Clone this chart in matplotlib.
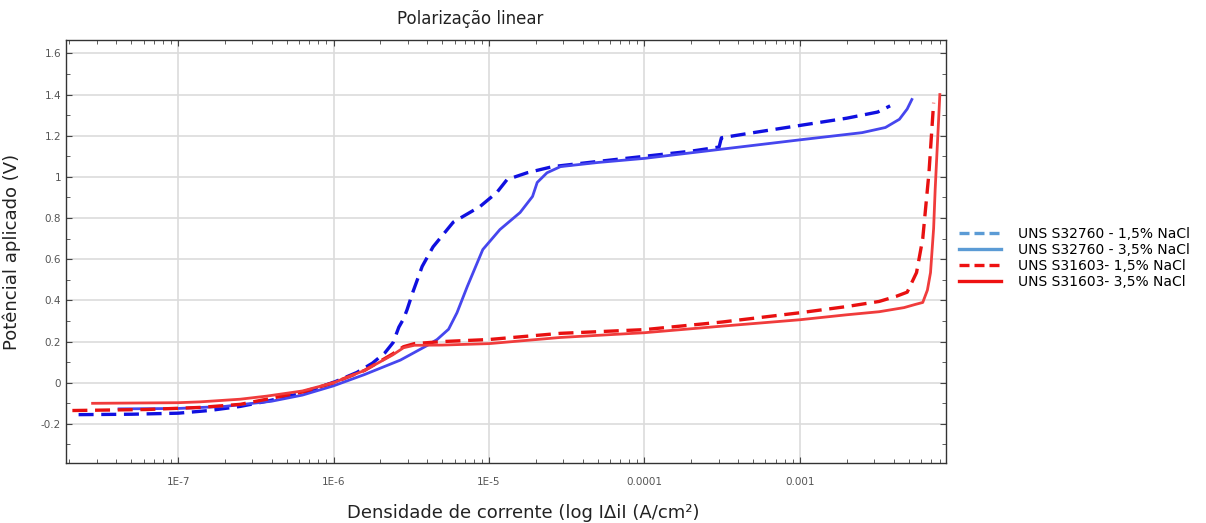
import numpy as np
import matplotlib
matplotlib.use('Agg')
import matplotlib.pyplot as plt
from matplotlib.lines import Line2D
from matplotlib.ticker import LogLocator, MultipleLocator

# log10 of current density (A/cm2) and applied potential (V)
s32760_15_logi = [-7.64, -7.3, -7.0, -6.8, -6.6, -6.43, -6.2, -5.99, -5.85, -5.75,
                  -5.67, -5.617, -5.58, -5.55, -5.527, -5.49, -5.43, -5.36, -5.23, -5.058,
                  -4.95, -4.884, -4.755, -4.59, -4.3, -4.0, -3.7, -3.52, -3.505, -3.3,
                  -3.0, -2.7, -2.5, -2.42]
s32760_15_E = [-0.155, -0.153, -0.148, -0.135, -0.115, -0.09, -0.05, 0.005, 0.05, 0.095,
               0.145, 0.195, 0.27, 0.31, 0.355, 0.44, 0.565, 0.66, 0.78, 0.856,
               0.924, 0.987, 1.02, 1.05, 1.075, 1.10, 1.125, 1.145, 1.19, 1.215,
               1.25, 1.285, 1.315, 1.345]

s32760_35_logi = [-7.38, -7.0, -6.7, -6.4, -6.2, -6.0, -5.8, -5.57, -5.4, -5.334,
                  -5.26, -5.206, -5.14, -5.04, -4.93, -4.80, -4.72, -4.69, -4.627, -4.54,
                  -4.3, -4.0, -3.5, -3.0, -2.6, -2.45, -2.36, -2.31, -2.28]
s32760_35_E = [-0.127, -0.125, -0.115, -0.09, -0.06, -0.015, 0.04, 0.11, 0.18, 0.21,
               0.26, 0.34, 0.467, 0.647, 0.744, 0.827, 0.905, 0.973, 1.02, 1.05,
               1.07, 1.09, 1.135, 1.18, 1.215, 1.24, 1.28, 1.33, 1.376]

s31603_15_logi = [-7.68, -7.2, -6.86, -6.6, -6.43, -6.2, -6.0, -5.8, -5.62, -5.55,
                  -5.48, -5.3, -5.0, -4.54, -4.0, -3.5, -3.0, -2.7, -2.49, -2.38,
                  -2.31, -2.25, -2.21, -2.17, -2.14]
s31603_15_E = [-0.135, -0.13, -0.12, -0.105, -0.08, -0.045, 0.0, 0.06, 0.14, 0.175,
               0.19, 0.20, 0.21, 0.24, 0.258, 0.295, 0.34, 0.37, 0.395, 0.42,
               0.44, 0.535, 0.70, 1.02, 1.36]

s31603_35_logi = [-7.55, -7.0, -6.86, -6.6, -6.43, -6.2, -6.0, -5.8, -5.62, -5.55,
                  -5.48, -5.3, -5.0, -4.54, -4.0, -3.5, -3.0, -2.7, -2.49, -2.33,
                  -2.26, -2.21, -2.18, -2.16, -2.14, -2.13, -2.10]
s31603_35_E = [-0.10, -0.097, -0.093, -0.08, -0.065, -0.04, 0.0, 0.06, 0.135, 0.17,
               0.182, 0.183, 0.19, 0.22, 0.243, 0.275, 0.306, 0.33, 0.345, 0.365,
               0.38, 0.39, 0.45, 0.535, 0.75, 0.94, 1.40]

legend_labels = ['UNS S32760 - 1,5% NaCl', 'UNS S32760 - 3,5% NaCl',
                 'UNS S31603- 1,5% NaCl', 'UNS S31603- 3,5% NaCl']
xtick_vals = [1e-7, 1e-6, 1e-5, 1e-4, 1e-3]
xtick_labels = ['1E-7', '1E-6', '1E-5', '0.0001', '0.001']

fig = plt.figure(figsize=(12.06, 5.23), dpi=100)
ax = fig.add_axes([0.0547, 0.1147, 0.7297, 0.8088])

dash = (0, (4.5, 2.3))
ax.plot(10.0 ** np.array(s32760_15_logi), s32760_15_E, color='#1010e0', lw=2.4, linestyle=dash)
ax.plot(10.0 ** np.array(s32760_35_logi), s32760_35_E, color='#4646ee', lw=2.0)
ax.plot(10.0 ** np.array(s31603_15_logi), s31603_15_E, color='#e81010', lw=2.4, linestyle=dash)
ax.plot(10.0 ** np.array(s31603_35_logi), s31603_35_E, color='#f03c3c', lw=2.0)

ax.set_xscale('log')
ax.set_xlim(1.9e-8, 8.7e-3)
ax.set_ylim(-0.39, 1.665)
ax.set_xticks(xtick_vals)
ax.set_xticklabels(xtick_labels)
ax.xaxis.set_minor_locator(LogLocator(base=10, subs=np.arange(2, 10), numticks=20))
ax.xaxis.set_minor_formatter(plt.NullFormatter())
ax.yaxis.set_minor_locator(MultipleLocator(0.1))
ax.set_yticks([-0.2, 0, 0.2, 0.4, 0.6, 0.8, 1.0, 1.2, 1.4, 1.6])
ax.set_yticklabels(['-0.2', '0', '0.2', '0.4', '0.6', '0.8', '1', '1.2', '1.4', '1.6'])

ax.grid(True, which='major', color='#dcdcdc', lw=1.2)
ax.set_axisbelow(True)
ax.tick_params(which='both', direction='in', top=True, right=True, colors='#444444',
               labelsize=7.5, labelcolor='#555555')
ax.tick_params(which='major', length=4)
ax.tick_params(which='minor', length=3)
ax.tick_params(axis='x', which='major', pad=10)
for sp in ax.spines.values():
    sp.set_color('#333333')
    sp.set_linewidth(1.0)

ax.set_xlabel('Densidade de corrente (log I\u0394iI (A/cm\u00b2)', fontsize=13, color='#222222', labelpad=12,
              x=0.52)
ax.set_ylabel('Potêncial aplicado (V)', fontsize=13, color='#222222', labelpad=14)
fig.text(0.39, 0.964, 'Polarização linear', ha='center', va='center', fontsize=12, color='#222222')

handles = [Line2D([], [], color='#5b9bd5', lw=2.4, linestyle=(0, (3, 1.5))),
           Line2D([], [], color='#5b9bd5', lw=2.4),
           Line2D([], [], color='#ee1111', lw=2.4, linestyle=(0, (3, 1.5))),
           Line2D([], [], color='#ee1111', lw=2.4)]
fig.legend(handles, legend_labels, loc='center left', bbox_to_anchor=(0.785, 0.507),
           frameon=False, fontsize=10, handlelength=3.0, labelspacing=0.15, handletextpad=1.2)

fig.savefig('out.png', dpi=100)
